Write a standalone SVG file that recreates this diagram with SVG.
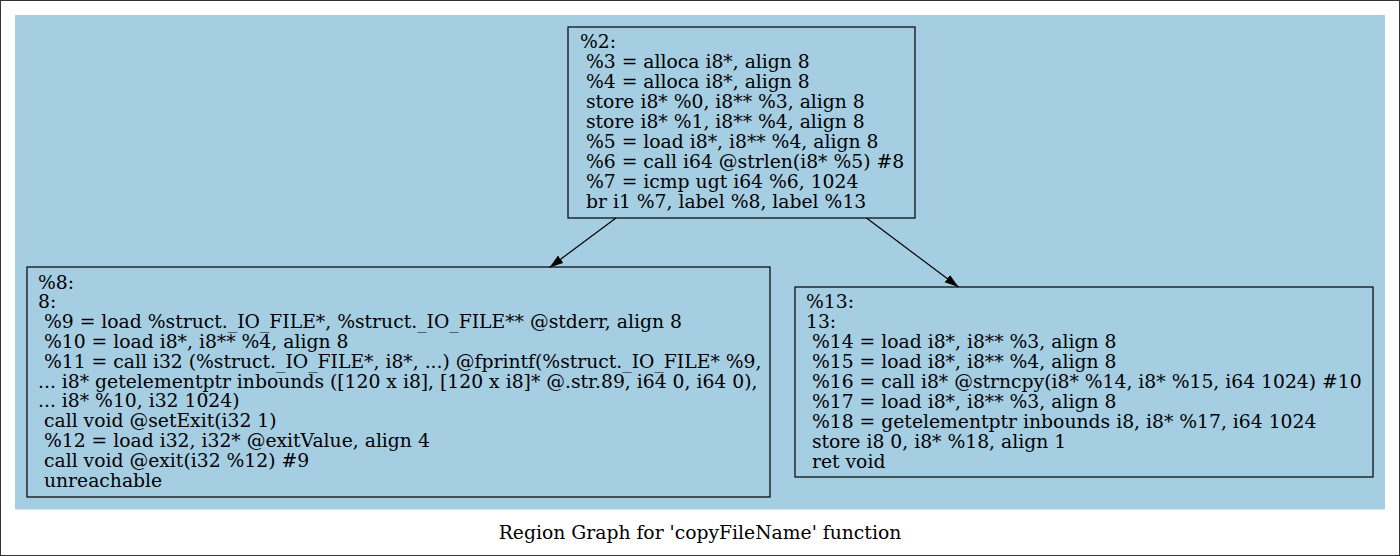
<svg xmlns="http://www.w3.org/2000/svg" width="1400" height="556" viewBox="0 0 1400 556">
<defs>
<style>
text{font-family:"DejaVu Serif","Liberation Serif",serif;font-size:18.75px;fill:#000;white-space:pre}
.node rect{fill:none;stroke:#000;stroke-width:1.2}
.edge line{stroke:#000;stroke-width:1.2}
</style>
<marker id="arr" viewBox="0 0 14 10" refX="14" refY="5" markerWidth="14" markerHeight="10" markerUnits="userSpaceOnUse" orient="auto">
<path d="M0,0.5 L14,5 L0,9.5 Z" fill="#000"/>
</marker>
</defs>
<rect x="0.5" y="0.5" width="1399" height="555" fill="#fff" stroke="#333"/>
<rect x="15" y="15" width="1370" height="494.5" fill="#a6cee3"/>
<g id="connectors" class="edge">
<line x1="616" y1="218" x2="549.5" y2="267.5" marker-end="url(#arr)"/>
<line x1="866.5" y1="218" x2="958.5" y2="287" marker-end="url(#arr)"/>
</g>
<g id="node2" class="node">
<rect x="568" y="27" width="347" height="191"/>
<text x="580" y="48">%2:</text>
<text x="580" y="68"> %3 = alloca i8*, align 8</text>
<text x="580" y="88"> %4 = alloca i8*, align 8</text>
<text x="580" y="108"> store i8* %0, i8** %3, align 8</text>
<text x="580" y="128"> store i8* %1, i8** %4, align 8</text>
<text x="580" y="148"> %5 = load i8*, i8** %4, align 8</text>
<text x="580" y="168"> %6 = call i64 @strlen(i8* %5) #8</text>
<text x="580" y="188"> %7 = icmp ugt i64 %6, 1024</text>
<text x="580" y="208"> br i1 %7, label %8, label %13</text>
</g>
<g id="node8" class="node">
<rect x="27" y="267" width="743" height="230"/>
<text x="38" y="288.5">%8:</text>
<text x="38" y="308.3">8:</text>
<text x="38" y="328.1"> %9 = load %struct._IO_FILE*, %struct._IO_FILE** @stderr, align 8</text>
<text x="38" y="347.9"> %10 = load i8*, i8** %4, align 8</text>
<text x="38" y="367.7"> %11 = call i32 (%struct._IO_FILE*, i8*, ...) @fprintf(%struct._IO_FILE* %9,</text>
<text x="38" y="387.5">... i8* getelementptr inbounds ([120 x i8], [120 x i8]* @.str.89, i64 0, i64 0),</text>
<text x="38" y="407.3">... i8* %10, i32 1024)</text>
<text x="38" y="427.1"> call void @setExit(i32 1)</text>
<text x="38" y="446.9"> %12 = load i32, i32* @exitValue, align 4</text>
<text x="38" y="466.7"> call void @exit(i32 %12) #9</text>
<text x="38" y="486.5"> unreachable</text>
</g>
<g id="node13" class="node">
<rect x="795" y="287" width="578" height="190"/>
<text x="806" y="308">%13:</text>
<text x="806" y="328">13:</text>
<text x="806" y="348"> %14 = load i8*, i8** %3, align 8</text>
<text x="806" y="368"> %15 = load i8*, i8** %4, align 8</text>
<text x="806" y="388"> %16 = call i8* @strncpy(i8* %14, i8* %15, i64 1024) #10</text>
<text x="806" y="408"> %17 = load i8*, i8** %3, align 8</text>
<text x="806" y="428"> %18 = getelementptr inbounds i8, i8* %17, i64 1024</text>
<text x="806" y="448"> store i8 0, i8* %18, align 1</text>
<text x="806" y="468"> ret void</text>
</g>
<text x="700" y="539" text-anchor="middle">Region Graph for 'copyFileName' function</text>
</svg>
